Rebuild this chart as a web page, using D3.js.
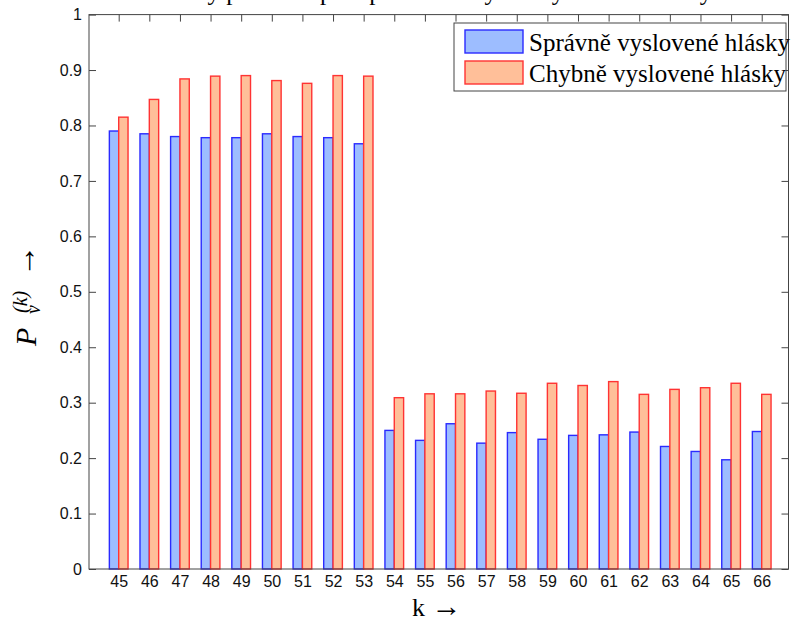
<!DOCTYPE html>
<html>
<head>
<meta charset="utf-8">
<script src="https://cdn.jsdelivr.net/npm/d3@7"></script>
<style>
body { margin: 0; background: #fff; }
svg { display: block; }
.tick text { font-family: "Liberation Sans", Arial, sans-serif; font-size: 16px; fill: #111; }
.tick line { stroke: #444; }
</style>
</head>
<body>
<div id="chart"></div>
<script>
// values
var categories = [45, 46, 47, 48, 49, 50, 51, 52, 53, 54, 55, 56, 57, 58, 59, 60, 61, 62, 63, 64, 65, 66];
var spravne = [0.790, 0.785, 0.780, 0.778, 0.778, 0.785, 0.780, 0.778, 0.767, 0.250, 0.232, 0.262, 0.227, 0.246, 0.234, 0.241, 0.242, 0.247, 0.221, 0.212, 0.197, 0.248];
var chybne = [0.815, 0.847, 0.884, 0.889, 0.890, 0.881, 0.876, 0.890, 0.889, 0.309, 0.316, 0.316, 0.321, 0.317, 0.335, 0.331, 0.338, 0.315, 0.324, 0.327, 0.335, 0.315];
var yTicks = [0, 0.1, 0.2, 0.3, 0.4, 0.5, 0.6, 0.7, 0.8, 0.9, 1];
var seriesNames = ["Správně vyslovené hlásky", "Chybně vyslovené hlásky"];
var titleText = "Váhy příznaků pro správně a chybně vyslovené hlásky";

var width = 795, height = 622;
var mLeft = 89, mRight = 788.5, mTop = 14.6, mBottom = 569;
var barW = 0.305;

var svg = d3.select("#chart")
	.append("svg")
	.attr("width", width)
	.attr("height", height)

var x = d3.scaleLinear()
	.domain([44.03, 66.875])
	.range([mLeft, mRight])

var y = d3.scaleLinear()
	.domain([0, 1])
	.range([mBottom, mTop])

// ticks (MATLAB style, pointing inward on all four sides)
svg.append("g")
	.attr("transform", "translate(" + mLeft + ",0)")
	.call(d3.axisLeft(y).tickValues(yTicks).tickSizeInner(-7).tickSizeOuter(0).tickPadding(7).tickFormat(d3.format("~g")))
	.call(function (g) { g.select(".domain").remove() })

svg.append("g")
	.attr("transform", "translate(" + mRight + ",0)")
	.call(d3.axisRight(y).tickValues(yTicks).tickSizeInner(-7).tickSizeOuter(0).tickFormat(""))
	.call(function (g) { g.select(".domain").remove() })

svg.append("g")
	.attr("transform", "translate(0," + mBottom + ")")
	.call(d3.axisBottom(x).tickValues(categories).tickSizeInner(-7).tickSizeOuter(0).tickPadding(7).tickFormat(d3.format("d")))
	.call(function (g) { g.select(".domain").remove() })

svg.append("g")
	.attr("transform", "translate(0," + mTop + ")")
	.call(d3.axisTop(x).tickValues(categories).tickSizeInner(-7).tickSizeOuter(0).tickFormat(""))
	.call(function (g) { g.select(".domain").remove() })

// bars
var bars = svg.append("g")

bars.selectAll(".spravne")
	.data(categories)
	.enter()
	.append("rect")
	.attr("class", "spravne")
	.attr("x", function (d) { return x(d - barW) })
	.attr("width", function (d) { return x(d) - x(d - barW) })
	.attr("y", function (d, i) { return y(spravne[i]) })
	.attr("height", function (d, i) { return y(0) - y(spravne[i]) })
	.attr("fill", "#9dbdff")
	.attr("stroke", "#2a2aff")
	.attr("stroke-width", 1.4)

bars.selectAll(".chybne")
	.data(categories)
	.enter()
	.append("rect")
	.attr("class", "chybne")
	.attr("x", function (d) { return x(d) })
	.attr("width", function (d) { return x(d + barW) - x(d) })
	.attr("y", function (d, i) { return y(chybne[i]) })
	.attr("height", function (d, i) { return y(0) - y(chybne[i]) })
	.attr("fill", "#ffbf99")
	.attr("stroke", "#ff3333")
	.attr("stroke-width", 1.4)

// axes box
svg.append("rect")
	.attr("x", mLeft)
	.attr("y", mTop)
	.attr("width", mRight - mLeft)
	.attr("height", mBottom - mTop)
	.attr("fill", "none")
	.attr("stroke", "#444")

// title, mostly outside the window like in the original
svg.append("text")
	.attr("x", 439)
	.attr("y", -0.5)
	.attr("text-anchor", "middle")
	.style("font-family", "'Liberation Serif', 'Times New Roman', serif")
	.style("font-size", "25px")
	.text(titleText)

// x label
var xl = svg.append("text")
	.attr("x", 412)
	.attr("y", 616)
	.style("font-family", "'Liberation Serif', 'Times New Roman', serif")
	.style("font-size", "26px")
xl.append("tspan").text("k ")
xl.append("tspan").style("font-size", "30px").text("\u2192")

// y label  P_v^(k) ->
var yl = svg.append("g")
	.attr("transform", "translate(36,300) rotate(-90)")
	.style("font-family", "'Liberation Serif', 'Times New Roman', serif")
	.style("font-style", "italic")

yl.append("text").attr("x", -46).attr("y", 0).style("font-size", "30px").text("P")
yl.append("text").attr("x", -13).attr("y", -9).style("font-size", "20px").text("(k)")
yl.append("text").attr("x", -14).attr("y", 4).style("font-size", "20px").text("v")
yl.append("text").attr("x", 23).attr("y", -1).style("font-size", "32px").style("font-style", "normal").text("\u2192")

// legend
var legend = svg.append("g")

legend.append("rect")
	.attr("x", 454)
	.attr("y", 23)
	.attr("width", 332)
	.attr("height", 68)
	.attr("fill", "#fff")
	.attr("stroke", "#444")

var legFill = ["#9dbdff", "#ffbf99"], legStroke = ["#2a2aff", "#ff3333"];

legend.selectAll(".patch")
	.data(seriesNames)
	.enter()
	.append("rect")
	.attr("class", "patch")
	.attr("x", 465)
	.attr("y", function (d, i) { return 30 + i * 31 })
	.attr("width", 58)
	.attr("height", 23)
	.attr("fill", function (d, i) { return legFill[i] })
	.attr("stroke", function (d, i) { return legStroke[i] })
	.attr("stroke-width", 1.4)

legend.selectAll(".label")
	.data(seriesNames)
	.enter()
	.append("text")
	.attr("class", "label")
	.attr("x", 529)
	.attr("y", function (d, i) { return 50.5 + i * 31 })
	.style("font-family", "'Liberation Serif', 'Times New Roman', serif")
	.style("font-size", "25px")
	.text(function (d) { return d })
</script>
</body>
</html>
